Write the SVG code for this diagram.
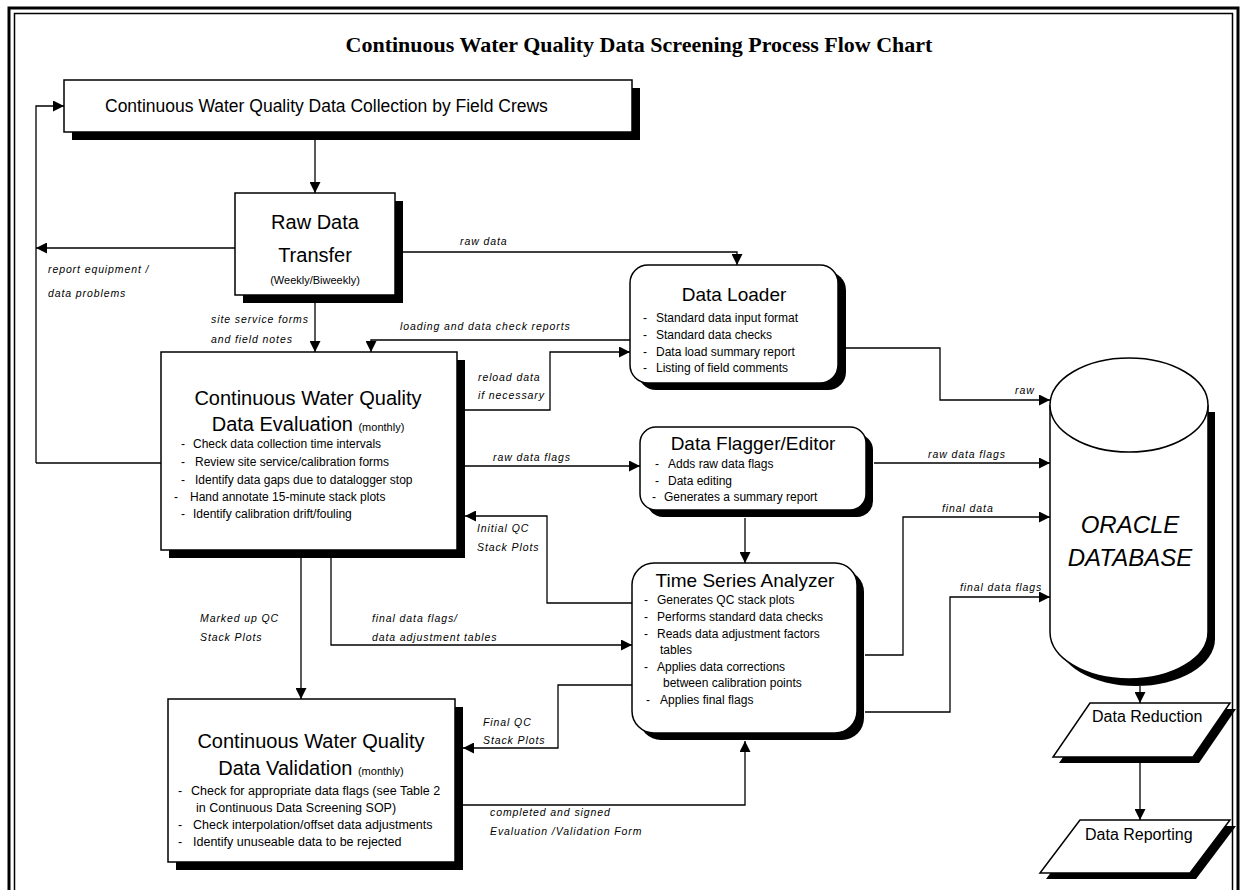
<svg xmlns="http://www.w3.org/2000/svg" width="1243" height="890" viewBox="0 0 1243 890">
<defs>
<marker id="ah" viewBox="0 0 10 10" refX="10" refY="5" markerWidth="11" markerHeight="11" markerUnits="userSpaceOnUse" orient="auto">
<path d="M0,0 L10,5 L0,10 z" fill="#000"/>
</marker>
<style>
.box{fill:#fff;stroke:#000;stroke-width:1.5}
.sh{fill:#000}
.conn{fill:none;stroke:#000;stroke-width:1.3}
.arr{marker-end:url(#ah)}
.sans{font-family:"Liberation Sans",Arial,sans-serif;fill:#000}
.ttl{font-size:19px}
.bul{font-size:12px}
.vbul{font-size:12.5px}
.lbl{font-family:"Liberation Sans",Arial,sans-serif;font-style:italic;font-size:10.5px;letter-spacing:0.9px;fill:#000}
</style>
</defs>
<rect width="1243" height="890" fill="#fff"/>
<g id="border">
<rect x="9" y="8" width="1229" height="900" fill="none" stroke="#000" stroke-width="3"/>
<rect x="14.5" y="13.5" width="1218" height="900" fill="none" stroke="#000" stroke-width="1.5"/>
</g>
<text id="title" x="639" y="52" text-anchor="middle" font-family="'Liberation Serif','Times New Roman',serif" font-weight="bold" font-size="22">Continuous Water Quality Data Screening Process Flow Chart</text>

<g id="connectors">
<path class="conn arr" d="M36,463 L36,106 L64,106"/>
<path class="conn" d="M161,463 L36,463"/>
<path class="conn arr" d="M315,140 L315,193"/>
<path class="conn arr" d="M235,248 L36,248"/>
<path class="conn arr" d="M403,252 L737,252 L737,265"/>
<path class="conn arr" d="M315,303 L315,352"/>
<path class="conn arr" d="M630,340 L371,340 L371,352"/>
<path class="conn arr" d="M465,410 L550,410 L550,352 L630,352"/>
<path class="conn arr" d="M465,466 L640,466"/>
<path class="conn arr" d="M632,603 L547,603 L547,516 L465,516"/>
<path class="conn arr" d="M331,558 L331,645 L632,645"/>
<path class="conn arr" d="M301,558 L301,699"/>
<path class="conn arr" d="M632,685 L558,685 L558,748 L463,748"/>
<path class="conn arr" d="M463,805 L745,805 L745,741"/>
<path class="conn arr" d="M745,518 L745,563"/>
<path class="conn arr" d="M846,348 L940,348 L940,400 L1050,400"/>
<path class="conn arr" d="M874,463 L1050,463"/>
<path class="conn arr" d="M865,655 L903,655 L903,517 L1050,517"/>
<path class="conn arr" d="M865,712 L950,712 L950,597 L1050,597"/>
<path class="conn arr" d="M1140,686 L1140,703"/>
<path class="conn arr" d="M1140,763 L1140,820"/>
</g>

<g id="labels">
<text class="lbl" x="48" y="273">report equipment /</text>
<text class="lbl" x="48" y="297">data problems</text>
<text class="lbl" x="460" y="245">raw data</text>
<text class="lbl" x="211" y="323">site service forms</text>
<text class="lbl" x="211" y="343">and  field notes</text>
<text class="lbl" x="400" y="330">loading and data check reports</text>
<text class="lbl" x="478" y="381">reload data</text>
<text class="lbl" x="478" y="399">if necessary</text>
<text class="lbl" x="493" y="461">raw data flags</text>
<text class="lbl" x="477" y="532">Initial QC</text>
<text class="lbl" x="477" y="551">Stack Plots</text>
<text class="lbl" x="200" y="622">Marked up QC</text>
<text class="lbl" x="200" y="641">Stack Plots</text>
<text class="lbl" x="372" y="622">final data flags/</text>
<text class="lbl" x="372" y="641">data adjustment tables</text>
<text class="lbl" x="483" y="726">Final QC</text>
<text class="lbl" x="483" y="744">Stack Plots</text>
<text class="lbl" x="490" y="816">completed and signed</text>
<text class="lbl" x="490" y="835">Evaluation /Validation Form</text>
<text class="lbl" x="1015" y="394">raw</text>
<text class="lbl" x="928" y="458">raw data flags</text>
<text class="lbl" x="942" y="512">final data</text>
<text class="lbl" x="960" y="591">final data flags</text>
</g>

<g id="collection">
<rect class="sh" x="72" y="88" width="568" height="52"/>
<rect class="box" x="64" y="80" width="568" height="52"/>
<text class="sans" x="105" y="112" font-size="17.5">Continuous Water Quality Data Collection by Field Crews</text>
</g>

<g id="rawtransfer">
<rect class="sh" x="243" y="201" width="160" height="102"/>
<rect class="box" x="235" y="193" width="160" height="102"/>
<text class="sans" x="315" y="229" font-size="20" text-anchor="middle">Raw Data</text>
<text class="sans" x="315" y="262" font-size="20" text-anchor="middle">Transfer</text>
<text class="sans" x="315" y="284" font-size="11" text-anchor="middle">(Weekly/Biweekly)</text>
</g>

<g id="evaluation">
<rect class="sh" x="169" y="360" width="296" height="198"/>
<rect class="box" x="161" y="352" width="296" height="198"/>
<text class="sans" x="308" y="405" font-size="20" text-anchor="middle">Continuous Water Quality</text>
<text class="sans" x="308" y="431" font-size="20" text-anchor="middle">Data Evaluation <tspan font-size="11">(monthly)</tspan></text>
<text class="sans bul" x="181" y="448">-<tspan x="193">Check data collection time intervals</tspan></text>
<text class="sans bul" x="181" y="466">-<tspan x="195">Review site service/calibration forms</tspan></text>
<text class="sans bul" x="181" y="484">-<tspan x="195">Identify data gaps due to datalogger stop</tspan></text>
<text class="sans bul" x="174" y="501">-<tspan x="190">Hand annotate 15-minute stack plots</tspan></text>
<text class="sans bul" x="181" y="518">-<tspan x="193">Identify calibration drift/fouling</tspan></text>
</g>

<g id="validation">
<rect class="sh" x="176" y="707" width="287" height="163"/>
<rect class="box" x="168" y="699" width="287" height="163"/>
<text class="sans" x="311" y="748" font-size="20" text-anchor="middle">Continuous Water Quality</text>
<text class="sans" x="311" y="775" font-size="20" text-anchor="middle">Data Validation <tspan font-size="11">(monthly)</tspan></text>
<text class="sans vbul" x="178" y="795">-<tspan x="191">Check for appropriate data flags (see Table 2</tspan></text>
<text class="sans vbul" x="196" y="812">in Continuous Data Screening SOP)</text>
<text class="sans vbul" x="178" y="829">-<tspan x="193">Check interpolation/offset data adjustments</tspan></text>
<text class="sans vbul" x="178" y="846">-<tspan x="193">Identify unuseable data to be rejected</tspan></text>
</g>

<g id="loader">
<rect class="sh" x="638" y="272" width="208" height="118" rx="18"/>
<rect class="box" x="630" y="265" width="208" height="118" rx="18"/>
<text class="sans ttl" x="734" y="301" text-anchor="middle">Data Loader</text>
<text class="sans bul" x="643" y="322">-<tspan x="656">Standard data input format</tspan></text>
<text class="sans bul" x="643" y="339">-<tspan x="656">Standard data checks</tspan></text>
<text class="sans bul" x="643" y="356">-<tspan x="656">Data load summary report</tspan></text>
<text class="sans bul" x="643" y="372">-<tspan x="656">Listing of field comments</tspan></text>
</g>

<g id="flagger">
<rect class="sh" x="647" y="434" width="226" height="83" rx="16"/>
<rect class="box" x="640" y="427" width="226" height="83" rx="16"/>
<text class="sans ttl" x="753" y="450" text-anchor="middle">Data Flagger/Editor</text>
<text class="sans bul" x="655" y="468">-<tspan x="668">Adds raw data flags</tspan></text>
<text class="sans bul" x="655" y="485">-<tspan x="668">Data editing</tspan></text>
<text class="sans bul" x="652" y="501">-<tspan x="664">Generates a summary report</tspan></text>
</g>

<g id="analyzer">
<rect class="sh" x="639" y="570" width="225" height="170" rx="22"/>
<rect class="box" x="632" y="563" width="225" height="170" rx="22"/>
<text class="sans ttl" x="745" y="587" text-anchor="middle">Time Series Analyzer</text>
<text class="sans bul" x="644" y="604">-<tspan x="657">Generates QC stack plots</tspan></text>
<text class="sans bul" x="644" y="621">-<tspan x="657">Performs standard data checks</tspan></text>
<text class="sans bul" x="644" y="638">-<tspan x="657">Reads data adjustment factors</tspan></text>
<text class="sans bul" x="660" y="654">tables</text>
<text class="sans bul" x="644" y="671">-<tspan x="657">Applies data corrections</tspan></text>
<text class="sans bul" x="663" y="687">between calibration points</text>
<text class="sans bul" x="646" y="704">-<tspan x="660">Applies final flags</tspan></text>
</g>

<g id="database">
<path class="sh" d="M1057,412 L1057,639 A79,47 0 0 0 1215,639 L1215,412 z"/>
<path class="box" d="M1050,405 L1050,632 A79,47 0 0 0 1208,632 L1208,405"/>
<ellipse class="box" cx="1129" cy="405" rx="79" ry="47"/>
<text class="sans" x="1130" y="533" font-size="24" font-style="italic" text-anchor="middle">ORACLE</text>
<text class="sans" x="1130" y="566" font-size="24" font-style="italic" text-anchor="middle">DATABASE</text>
</g>

<g id="reduction">
<path class="sh" d="M1096,709 L1236,709 L1199,763 L1059,763 z"/>
<path class="box" d="M1090,703 L1230,703 L1193,757 L1053,757 z"/>
<text class="sans" x="1092" y="722" font-size="16">Data Reduction</text>
</g>

<g id="reporting">
<path class="sh" d="M1086,826 L1236,826 L1196,879 L1046,879 z"/>
<path class="box" d="M1080,820 L1230,820 L1190,873 L1040,873 z"/>
<text class="sans" x="1085" y="840" font-size="16">Data Reporting</text>
</g>
</svg>
